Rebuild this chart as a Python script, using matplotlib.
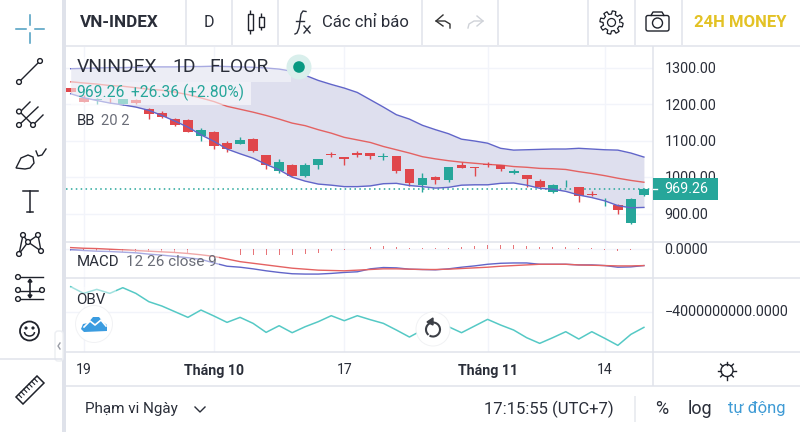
import matplotlib
matplotlib.use("Agg")
import matplotlib.pyplot as plt
from matplotlib.patches import Rectangle, Circle, Polygon, FancyBboxPatch, Arc
import numpy as np

plt.rcParams['font.family'] = ['Roboto', 'DejaVu Sans']

bars = list(range(-1, 44))
opens = [1245,1219,1213,1213,1201,1213,1187,1178,1160,1157,1115,1125,1095,1091,1105,1061,1019,1035,1005,1035,1065,1055,1067,
         1066,1056.5,1059,1022,980,1002,993,1035,1030,1037,1033,1011,1008,990,959.5,984,974,956,937,926,874,951]
closes = [1234,1206,1216,1211,1215,1204,1175,1167,1143,1126,1131,1086,1078,1103,1073,1035,1042,1005,1034,1050,1061,1052,1063,
          1060,1059,1019,984,998,992,1028,1026,1027,1033,1023,1019,997,973,980,986,948,952,939,911,942,969]
highs = [1245,1226,1218,1219,1215,1216,1190,1181,1163,1159,1135,1127,1099,1110,1108,1061,1051,1036,1039,1050,1070,1055,1072,
         1066,1066,1059,1024,1012,1004,1028,1043,1030,1043,1035,1024,1008,995,981.5,993,974,962,945,927,944,970.5]
lows = [1234,1206,1202,1204,1199,1201,1160,1164,1141,1124,1099,1079,1069,1091,1071,1023,1013,1004,1002,1024,1055,1033,1056,
        1051,1048,1013.5,977,961,982,989,1026,1004,1028,1019,1009,975,971,957,975,934,948,923,899,873,949]
bb_upper = [1298,1299,1300,1301,1301,1302,1303,1303,1303,1304,1304,1305,1304,1303,1302,1300,1297,1291,1280,1266,1255,1245,1233,
            1213,1193,1172,1160,1143,1131,1120,1105,1100,1094,1080,1075,1076,1077,1078,1078,1080,1078,1076,1075,1067,1056]
bb_mid = [1262,1259,1256,1252,1250,1246,1242,1239,1234,1227,1218,1208,1195,1187,1179,1170,1160,1149,1142,1131,1121.5,1110,1103,
          1096,1085,1076,1067,1057,1051,1046,1042,1039,1036,1034,1030,1028,1025,1024,1022,1016,1011,1005,998,992,987]
bb_lower = [1229.5,1218.5,1211,1204,1199,1193,1184,1170,1154.5,1138,1117,1099,1078,1065,1053,1036,1021,1001,990,982,979,975,975,
            977,983,984,978,975,971,973,979,980,980,984,985,979,970.5,968,962,952,945,936,923,917,918]
macd_line = [-4,-6,-8,-9,-11,-13,-17,-20,-24,-28,-33,-44,-54,-57,-62,-68,-73,-77,-78,-78,-76,-73,-71,
             -62,-58,-59,-63,-64,-65,-62,-57,-53,-48,-45,-44,-44,-48,-48,-48,-50,-50,-52,-57,-56,-52]
macd_signal = [3,1,0,-2,-4,-6,-8,-10,-12,-15,-19,-24,-32,-40,-45,-50,-55,-60,-63,-66,-67,-68,-66,
               -64,-62,-62,-63,-64,-64,-63,-61,-59,-57,-54,-52,-50,-48,-48,-48,-50,-51,-52,-53,-53,-52]
macd_hist = [-3,-6,-7,-8,-9,-9,-10,-11,-12,-14,-15,-18,-21,-20,-21,-21,-20,-20,-17,-14,-7,-3,-1,
             5,8,5,3,2,2,3,5,8,11,10,10,8,5,4,4,2,2,-4,-6,-5,-2]
obv = [-2500,-2900,-2660,-2900,-2560,-2900,-3400,-3660,-4000,-4340,-3900,-4260,-4640,-4340,-4700,-5240,-4840,-5260,-4900,-4600,
       -4240,-4540,-4240,-4480,-4700,-5100,-5520,-5100,-5100,-4900,-5260,-4860,-4460,-4800,-5100,-5560,-5900,-5560,-5200,-5640,
       -5200,-5600,-6020,-5360,-4940]
price_ticks = [900,1000,1100,1200,1300]
date_ticks = [0,10,20,31,40]
date_labels = ['19','Tháng 10','17','Tháng 11','14']
last_close = 969.26

UP, DOWN = '#26a69a', '#e0474c'
BLUE, RED, TEAL = '#6165c9', '#e46262', '#55c9c5'
GRID, BORDER = '#f2f4fa', '#e0e3eb'
TXT = '#2a2e39'
W, H = 800, 432
L, R = 66, 653.3

fig = plt.figure(figsize=(8, 4.32), dpi=100, facecolor='white')

def pane(top, bottom, z):
    return fig.add_axes([L/W, 1-bottom/H, (R-L)/W, (bottom-top)/H], zorder=z, facecolor='none')

bg = fig.add_axes([0,0,1,1], zorder=0); bg.set_xlim(0,W); bg.set_ylim(H,0); bg.axis('off')
ui = fig.add_axes([0,0,1,1], zorder=5, facecolor='none'); ui.set_xlim(0,W); ui.set_ylim(H,0); ui.axis('off')

xlim = (-1.36, 43.72)
ax1 = pane(47, 241.7, 2); ax2 = pane(241.7, 278, 2); ax3 = pane(278, 352.4, 2)
k = 400/146.0
ax1.set_ylim(900-(241.7-214)*k, 900+(214-47)*k)
ax2.set_ylim(-90, 21)
ax3.set_ylim(-4000-(352.4-311.7)*60, -4000+(311.7-278)*60)
for a in (ax1, ax2, ax3):
    a.set_xlim(*xlim)
    for s in a.spines.values(): s.set_visible(False)
    a.tick_params(left=False, bottom=False, labelleft=False, labelbottom=False)
    a.set_xticks(date_ticks)
    a.grid(True, color=GRID, lw=1)
    a.set_axisbelow(True)
ax1.set_yticks(price_ticks); ax2.set_yticks([0]); ax3.set_yticks([-4000])

ax1.fill_between(bars, bb_lower, bb_upper, color='#dedfee', lw=0, zorder=1)
ax1.plot(bars, bb_upper, color=BLUE, lw=1.0, zorder=2)
ax1.plot(bars, bb_lower, color=BLUE, lw=1.0, zorder=4)
ax1.plot(bars, bb_mid, color=RED, lw=1.0, zorder=2)
ax1.axhline(last_close, color=UP, lw=1.1, ls=(0,(1,2.2)), zorder=2)
for b,o,c,h,l in zip(bars,opens,closes,highs,lows):
    col = UP if c>=o else DOWN
    ax1.plot([b,b],[l,h],color=col,lw=1,zorder=3,solid_capstyle='butt')
    ax1.add_patch(Rectangle((b-0.375,min(o,c)),0.75,max(abs(c-o),1.5),facecolor=col,edgecolor='none',zorder=3))

ax2.bar(bars, macd_hist, width=0.07, color=DOWN, alpha=0.75, zorder=2)
ax2.plot(bars, macd_line, color=BLUE, lw=1.0, zorder=3)
ax2.plot(bars, macd_signal, color=RED, lw=1.0, zorder=3)

ax3.plot(bars, obv, color=TEAL, lw=1.1)

bg.add_patch(Rectangle((62,0),4,H,color='#dfe2ea',lw=0))
def hl(y,x0,x1,c=BORDER,lw=1.1): ui.plot([x0,x1],[y,y],color=c,lw=lw,solid_capstyle='butt')
def vl(x,y0,y1,c=BORDER,lw=1.1): ui.plot([x,x],[y0,y1],color=c,lw=lw,solid_capstyle='butt')
hl(45.5,66,W); hl(241.7,66,W); hl(278,66,W); hl(352.4,66,W); hl(386,66,W)
vl(653.3,46,386)
hl(359,0,62)
for x in (186,232,278,422,497.5,588,635,682): vl(x,0,45)
vl(634.5,396,422,'#e6e8ee')
for i,d in enumerate(date_ticks):
    xp = L+(d-xlim[0])/(xlim[1]-xlim[0])*(R-L)
    bold = date_labels[i].startswith('Th')
    ui.text(xp,370.5,date_labels[i],ha='center',va='center',fontsize=10.2,color=TXT,fontweight='bold' if bold else 'normal')

ui.add_patch(Rectangle((71,82.3),180,23,facecolor='white',edgecolor='none',alpha=0.55))
ui.add_patch(Rectangle((71,57),220,25.3,facecolor='white',edgecolor='none',alpha=0.45))
ui.add_patch(Rectangle((71,250),148,27,facecolor='white',edgecolor='none',alpha=0.45))
ui.add_patch(Rectangle((71,287),45,23,facecolor='white',edgecolor='none',alpha=0.45))
ui.text(76.5,67,'VNINDEX',fontsize=13.9,color=TXT,va='center')
ui.text(172,67,'1D',fontsize=13.9,color=TXT,va='center')
ui.text(209,67,'FLOOR',fontsize=13.9,color=TXT,va='center')
ui.add_patch(Circle((299,67),12.5,color='#d9efec',lw=0)); ui.add_patch(Circle((299,67),5.8,color='#089981',lw=0))
ui.text(76,92.5,'969.26',fontsize=11.3,color=UP,va='center')
ui.text(131,92.5,'+26.36 (+2.80%)',fontsize=11.2,color=UP,va='center')
ui.text(76.5,121,'BB',fontsize=10.6,color=TXT,va='center'); ui.text(101,121,'20 2',fontsize=10.6,color='#6a6d78',va='center')
ui.text(76.5,262,'MACD',fontsize=10.8,color=TXT,va='center'); ui.text(126,262,'12 26 close 9',fontsize=11,color='#6a6d78',va='center')
ui.text(76.5,299.5,'OBV',fontsize=10.8,color=TXT,va='center')

for p,y in zip(['1300.00','1200.00','1100.00','1000.00','900.00'],[69,105.5,142,178,215]):
    ui.text(664.5,y,p,fontsize=10.3,color=TXT,va='center',zorder=3)
ui.add_patch(Rectangle((653,178.3),65,22,color=UP,lw=0,zorder=4))
ui.plot([653,657],[188.7,188.7],color='white',lw=1,zorder=5)
ui.text(664.5,189,'969.26',fontsize=10.3,color='white',va='center',zorder=5)
ui.text(664.5,249.5,'0.0000',fontsize=10.3,color=TXT,va='center')
ui.text(664.5,312,'−4000000000.0000',fontsize=10.3,color=TXT,va='center')

ui.text(80,22.5,'VN-INDEX',fontsize=12.3,fontweight='bold',color=TXT,va='center')
ui.text(209,22.5,'D',fontsize=11.5,color=TXT,va='center',ha='center')
ui.text(322,22.5,'Các chỉ báo',fontsize=12,color=TXT,va='center')
# fx icon
t = np.linspace(0,1,30)
ui.plot(304-4*np.cos(t*1.6)*0+(-4*t)+2*np.sin(t*3.14)*0, 32-26*t+0*t, color=TXT, lw=0) 
ui.plot([295,297,299,301,303,306],[34,33,28,14,11,11.5],color=TXT,lw=1)
ui.plot([296,304],[21,21],color=TXT,lw=1)
ui.plot([304,310],[26,33],color=TXT,lw=1); ui.plot([310,304],[26,33],color=TXT,lw=1)
ui.text(694,22.5,'24H MONEY',fontsize=12,fontweight='bold',color='#e3c225',va='center')
for x,a,b,c,d in ((250,10,14,30,34),(261,13,17,27,30)):
    vl(x,a,d,'#1f222b',1); ui.add_patch(Rectangle((x-2.5,b),5,c-b,fc='white',ec='#1f222b',lw=1,zorder=6))
ui.plot([443,436,443],[15,21,26],color='#333',lw=1)
ui.plot([436,445,450,450],[21,21,24,28],color='#333',lw=1)
ui.plot([483,474,469,468],[21,21,24,28],color='#cfd2d8',lw=1)
ui.plot([477,483,477],[16,21,26],color='#cfd2d8',lw=1)
ang = np.linspace(0,2*np.pi,97)
rg = 10+1.6*np.sign(np.sin(8*ang))
ui.plot(611.5+rg*np.cos(ang),22.5+rg*np.sin(ang),color='#1f222b',lw=0.9)
ui.add_patch(Circle((611.5,22.5),4,fc='none',ec='#1f222b',lw=0.9))
ui.add_patch(FancyBboxPatch((646,15.5),23,15.5,boxstyle='round,pad=0,rounding_size=2',fc='none',ec='#1f222b',lw=1))
ui.plot([651,653,662,664],[15.5,12,12,15.5],color='#1f222b',lw=1)
ui.add_patch(Circle((657.5,23),5,fc='none',ec='#1f222b',lw=1))

C='#1f222b'
for a,b,c,d in ((30,15,30,25),(30,33,30,43),(16,28.7,26,28.7),(35,28.7,44,28.7)):
    ui.plot([a,c],[b,d],color='#4a9cc0',lw=1.1)
def dot(x,y,r=2.4,ec=C): ui.add_patch(Circle((x,y),r,fc='white',ec=ec,lw=1,zorder=7))
ui.plot([19,40],[82,61],color=C,lw=1); dot(19,82); dot(40,61)
for a,b,c,d in ((19,113,30,102),(19,125,38,107),(33,125,43,115),(19,111,33,125)):
    ui.plot([a,c],[b,d],color=C,lw=1)
for x,y in ((19,111.5),(19,125),(33,125)): dot(x,y)
ui.add_patch(Polygon([(16,168),(21,158),(28,155),(33,157),(34,163),(30,168),(25,169)],closed=True,fc='white',ec=C,lw=1))
ui.plot([36,38,42,46],[151,156,155,149],color=C,lw=1)
ui.plot([23,38],[191,191],color=C,lw=1.1); ui.plot([30,30],[191,212],color=C,lw=1.1); ui.plot([27,33],[212,212],color=C,lw=1.1)
pts=[(19,254),(23,235),(38,235),(41,251),(28,242)]
ui.plot(*zip(*[pts[0],pts[1],pts[4],pts[2],pts[3],pts[4],pts[0]]),color=C,lw=1)
for x,y in pts: dot(x,y)
for y in (277,291,299): ui.plot([18,43],[y,y],color=C,lw=1)
dot(18,277); dot(18,290); dot(42,290); dot(18,299)
ui.plot([30,30],[281,297],color=C,lw=1.2)
ui.add_patch(Polygon([(28,282),(32,282),(30,279)],color=C)); ui.add_patch(Polygon([(28,295),(32,295),(30,298)],color=C))
ui.add_patch(Circle((29.5,331),9.5,fc='white',ec=C,lw=1.3))
dot(26,328,0.9,C); dot(33,328,0.9,C)
ui.add_patch(Arc((29.5,332),10,8,theta1=0,theta2=180,ec=C,lw=1.1))
ui.add_patch(FancyBboxPatch((55,331),8,30,boxstyle='round,pad=0,rounding_size=3',fc='white',ec='#eceef2',lw=1))
ui.plot([60,58,60],[343,346,349],color='#9a9da6',lw=1)
ui.add_patch(Polygon([(16,397),(37,376),(44,383),(23,404)],closed=True,fc='white',ec=C,lw=1.1))
for t in np.arange(0.12,0.95,0.125):
    x0,y0 = 16+21*t,397-21*t
    ui.plot([x0,x0+3],[y0,y0+3],color=C,lw=0.8)

def fbutton(x,y,r):
    ui.add_patch(Circle((x,y),r+1,fc='#eeeff2',ec='none',alpha=0.8))
    ui.add_patch(Circle((x,y),r,fc='white',ec='none'))
fbutton(94,324,18); fbutton(433,329,16.5)
ui.add_patch(Polygon([(81,329),(83,324),(88,323),(93,317),(99,317),(103,322),(107,325),(107,331),(84,332)],color='#3b9ce0',lw=0))
ui.plot([84,90,95,101,106],[327,321,325,320,326],color='white',lw=1.2)
ui.add_patch(Arc((433,329.5),14,14,theta1=-230,theta2=120,ec='#3c3f46',lw=1.5))
ui.add_patch(Polygon([(427,322),(433,318),(433,325)],color='#3c3f46'))

ui.add_patch(Circle((727,370.5),6,fc='none',ec=C,lw=1))
for a in np.arange(0,2*np.pi,np.pi/4):
    ui.plot([727+6*np.cos(a),727+9*np.cos(a)],[370.5+6*np.sin(a),370.5+9*np.sin(a)],color=C,lw=1)

ui.text(85,409,'Phạm vi Ngày',fontsize=11,color=TXT,va='center')
ui.plot([195,200,205],[407,412,407],color=TXT,lw=1)
ui.text(484,409,'17:15:55 (UTC+7)',fontsize=12,color=TXT,va='center')
ui.text(655,409,'%',fontsize=13,color=TXT,va='center')
ui.text(688,409,'log',fontsize=13,color=TXT,va='center')
ui.text(728,409,'tự động',fontsize=12,color='#3f9bd5',va='center')

fig.savefig('out.png', dpi=100)
